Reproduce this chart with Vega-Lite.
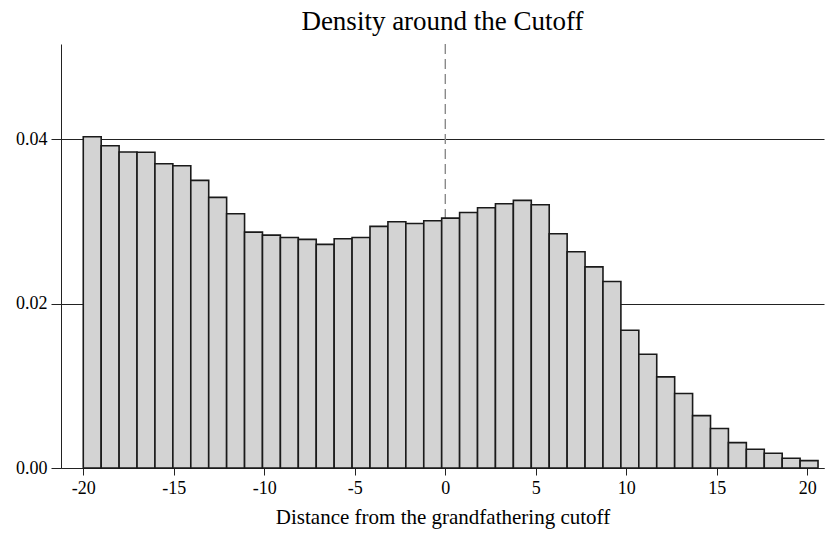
{
  "$schema": "https://vega.github.io/schema/vega-lite/v6.json",
  "width": 763,
  "height": 424,
  "autosize": "none",
  "padding": {"left": 61, "top": 44, "right": 1, "bottom": 65},
  "background": "white",
  "title": {
    "text": "Density around the Cutoff",
    "font": "Liberation Serif",
    "fontSize": 27,
    "fontWeight": "normal",
    "color": "#000000",
    "anchor": "middle",
    "offset": 7
  },
  "config": {
    "view": {"stroke": null},
    "axis": {
      "labelFont": "Liberation Serif",
      "titleFont": "Liberation Serif",
      "labelColor": "#000000",
      "titleColor": "#000000",
      "titleFontWeight": "normal",
      "domainColor": "#222222",
      "tickColor": "#222222"
    }
  },
  "data": {
    "values": [
      {"lo": -20.00, "hi": -19.01, "density": 0.04032},
      {"lo": -19.01, "hi": -18.02, "density": 0.03922},
      {"lo": -18.02, "hi": -17.03, "density": 0.03845},
      {"lo": -17.03, "hi": -16.04, "density": 0.03842},
      {"lo": -16.04, "hi": -15.05, "density": 0.03703},
      {"lo": -15.05, "hi": -14.06, "density": 0.03679},
      {"lo": -14.06, "hi": -13.07, "density": 0.03500},
      {"lo": -13.07, "hi": -12.08, "density": 0.03293},
      {"lo": -12.08, "hi": -11.09, "density": 0.03094},
      {"lo": -11.09, "hi": -10.10, "density": 0.02871},
      {"lo": -10.10, "hi": -9.11, "density": 0.02834},
      {"lo": -9.11, "hi": -8.12, "density": 0.02806},
      {"lo": -8.12, "hi": -7.13, "density": 0.02782},
      {"lo": -7.13, "hi": -6.14, "density": 0.02721},
      {"lo": -6.14, "hi": -5.15, "density": 0.02790},
      {"lo": -5.15, "hi": -4.16, "density": 0.02806},
      {"lo": -4.16, "hi": -3.17, "density": 0.02940},
      {"lo": -3.17, "hi": -2.18, "density": 0.02996},
      {"lo": -2.18, "hi": -1.19, "density": 0.02976},
      {"lo": -1.19, "hi": -0.20, "density": 0.03009},
      {"lo": -0.20, "hi": 0.79, "density": 0.03041},
      {"lo": 0.79, "hi": 1.78, "density": 0.03110},
      {"lo": 1.78, "hi": 2.77, "density": 0.03167},
      {"lo": 2.77, "hi": 3.76, "density": 0.03216},
      {"lo": 3.76, "hi": 4.75, "density": 0.03257},
      {"lo": 4.75, "hi": 5.74, "density": 0.03203},
      {"lo": 5.74, "hi": 6.73, "density": 0.02850},
      {"lo": 6.73, "hi": 7.72, "density": 0.02631},
      {"lo": 7.72, "hi": 8.71, "density": 0.02448},
      {"lo": 8.71, "hi": 9.70, "density": 0.02270},
      {"lo": 9.70, "hi": 10.69, "density": 0.01677},
      {"lo": 10.69, "hi": 11.68, "density": 0.01385},
      {"lo": 11.68, "hi": 12.67, "density": 0.01109},
      {"lo": 12.67, "hi": 13.66, "density": 0.00906},
      {"lo": 13.66, "hi": 14.65, "density": 0.00638},
      {"lo": 14.65, "hi": 15.64, "density": 0.00480},
      {"lo": 15.64, "hi": 16.63, "density": 0.00309},
      {"lo": 16.63, "hi": 17.62, "density": 0.00228},
      {"lo": 17.62, "hi": 18.61, "density": 0.00179},
      {"lo": 18.61, "hi": 19.60, "density": 0.00118},
      {"lo": 19.60, "hi": 20.59, "density": 0.00090}
    ]
  },
  "layer": [
    {
      "data": {"values": [{"cutoff": 0}]},
      "mark": {"type": "rule", "color": "#8a8a8a", "strokeWidth": 1.4, "strokeDash": [10, 5]},
      "encoding": {
        "x": {"field": "cutoff", "type": "quantitative", "scale": {"domain": [-21.23, 20.92], "nice": false, "zero": false}}
      }
    },
    {
      "mark": {"type": "rect", "fill": "#d3d3d3", "stroke": "#1a1a1a", "strokeWidth": 1.6},
      "encoding": {
        "x": {
          "field": "lo",
          "type": "quantitative",
          "scale": {"domain": [-21.23, 20.92], "nice": false, "zero": false},
          "axis": {
            "values": [-20, -15, -10, -5, 0, 5, 10, 15, 20],
            "labelExpr": "datum.value + ''",
            "labelFont": "Liberation Serif",
            "labelFontSize": 18,
            "tickSize": 7,
            "labelPadding": 4,
            "grid": false,
            "title": "Distance from the grandfathering cutoff",
            "titleFont": "Liberation Serif",
            "titleFontSize": 21,
            "titlePadding": 9
          }
        },
        "x2": {"field": "hi"},
        "y": {
          "field": "density",
          "type": "quantitative",
          "scale": {"domain": [0, 0.0516], "nice": false},
          "axis": {
            "values": [0, 0.02, 0.04],
            "format": ".2f",
            "labelFont": "Liberation Serif",
            "labelFontSize": 18,
            "tickSize": 10,
            "labelPadding": 4,
            "grid": true,
            "gridColor": "#222222",
            "gridWidth": 1,
            "title": null
          }
        },
        "y2": {"datum": 0}
      }
    }
  ]
}
